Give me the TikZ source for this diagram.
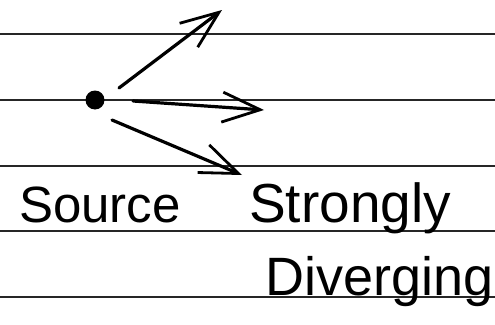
\documentclass[tikz,border=0pt]{standalone}
\usepackage{fontspec}
\setmainfont{Liberation Sans}
\usetikzlibrary{arrows.meta}
\begin{document}
\begin{tikzpicture}[x=1pt,y=-1pt,
  rule/.style={line width=1.3pt,black!85},
  ray/.style={line width=3.2pt,line cap=round,-{Straight Barb[length=38pt,width=30pt,line width=2.8pt]}},
  hand/.style={inner sep=0pt,anchor=base west}]
\useasboundingbox (0,0) rectangle (495,324);
\foreach \y in {34,100,166,231,297} \draw[rule] (0,\y) -- (495,\y);
\node[circle,fill=black,inner sep=0pt,minimum size=19pt] (src) at (95,100) {};
\coordinate (us) at (119,88);  \coordinate (ue) at (222,10);
\coordinate (ms) at (133,101); \coordinate (me) at (264,110);
\coordinate (ls) at (112,120); \coordinate (le) at (242,175);
\draw[ray] (us) -- (ue);
\draw[ray] (ms) -- (me);
\draw[ray] (ls) -- (le);
\node[hand,font=\fontsize{51}{51}\selectfont] (source) at (19,222) {Source};
\node[hand,font=\fontsize{55}{55}\selectfont] (strongly) at (249,222) {Strongly};
\node[hand,font=\fontsize{54}{54}\selectfont] (diverging) at (265,295) {Diverging};
\end{tikzpicture}
\end{document}
